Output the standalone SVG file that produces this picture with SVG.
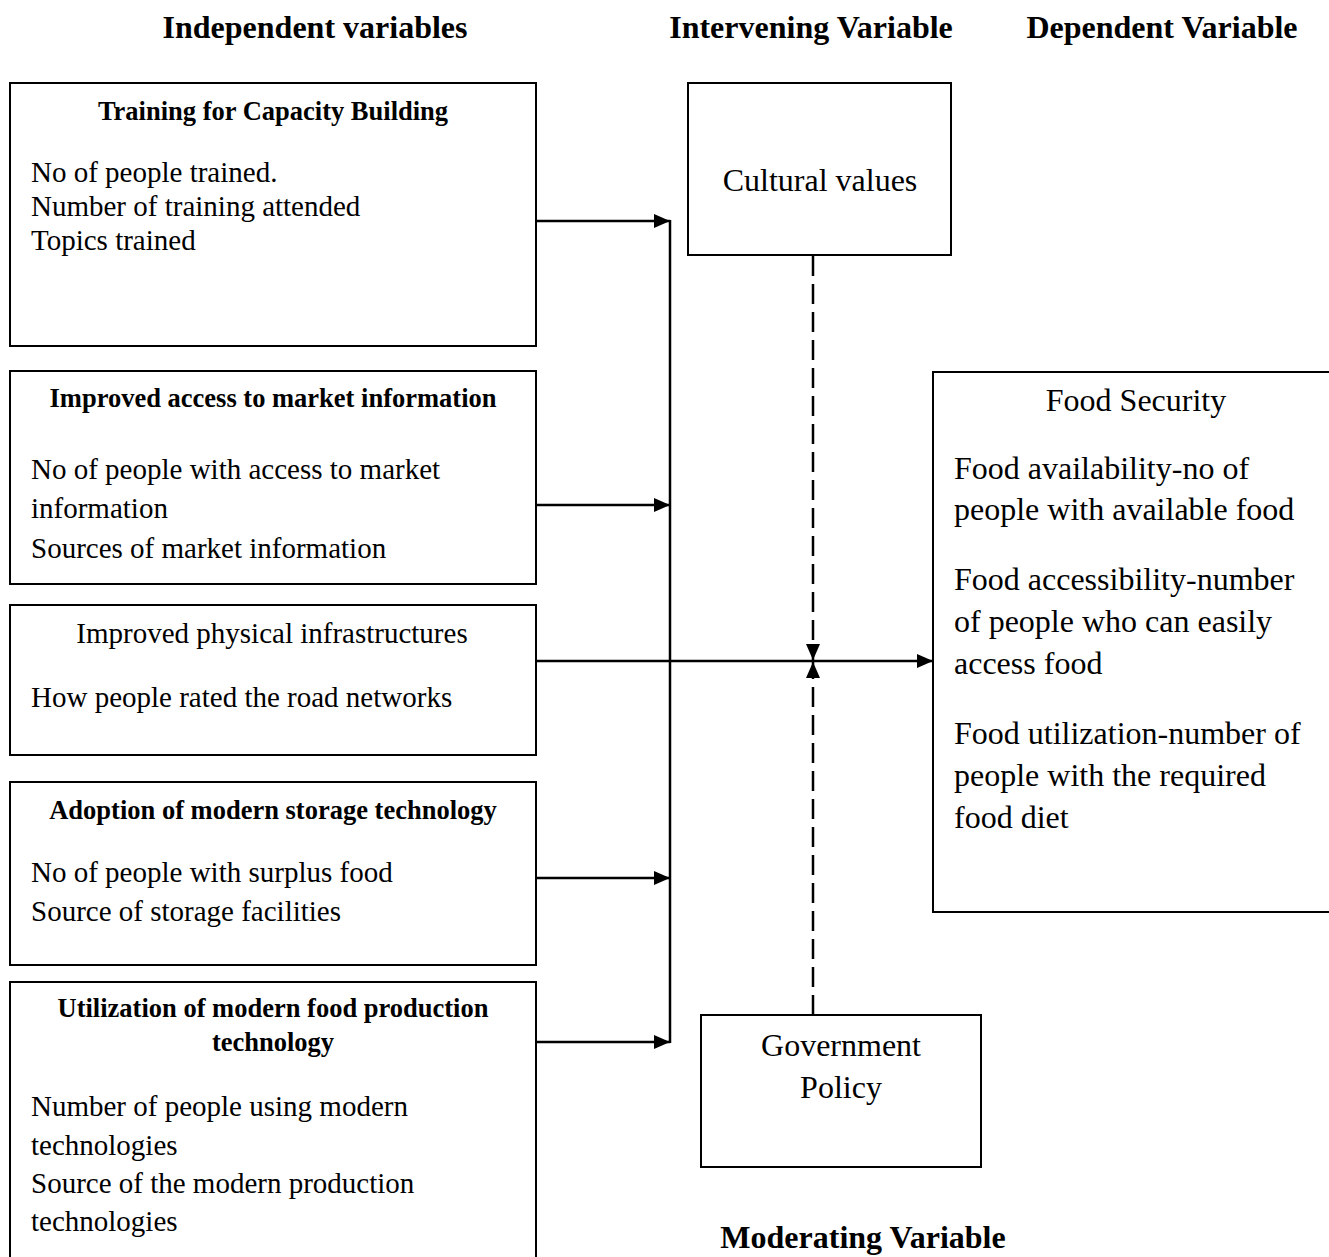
<svg xmlns="http://www.w3.org/2000/svg" width="1329" height="1257" viewBox="0 0 1329 1257">
<style>
text{font-family:"Liberation Serif","Times New Roman",serif;fill:#000}
.hdr{font-size:32px;font-weight:bold}
.ttl{font-size:26.5px;font-weight:bold}
.b{font-size:29px}
.c{font-size:32px}
.mid{text-anchor:middle}
.box{fill:#fff;stroke:#000;stroke-width:2}
.ln{fill:none;stroke:#000;stroke-width:2.5}
.dash{fill:none;stroke:#000;stroke-width:2.5;stroke-dasharray:20 8}
</style>
<defs>
<marker id="ah" viewBox="0 0 16 14" refX="16" refY="7" markerWidth="16" markerHeight="14" orient="auto" markerUnits="userSpaceOnUse"><path d="M0,0 L16,7 L0,14 z" fill="#000"/></marker>
</defs>
<rect width="1329" height="1257" fill="#fff"/>
<g id="headers">
<text class="hdr mid" x="315" y="38">Independent variables</text>
<text class="hdr mid" x="811" y="38">Intervening Variable</text>
<text class="hdr mid" x="1162" y="38">Dependent Variable</text>
<text class="hdr mid" x="863" y="1248">Moderating Variable</text>
</g>
<g id="training">
<rect class="box" x="10" y="83" width="526" height="263"/>
<text class="ttl mid" x="273" y="120">Training for Capacity Building</text>
<text class="b" x="31" y="182">No of people trained.</text>
<text class="b" x="31" y="216">Number of training attended</text>
<text class="b" x="31" y="250">Topics trained</text>
</g>
<g id="market">
<rect class="box" x="10" y="371" width="526" height="213"/>
<text class="ttl mid" x="273" y="407">Improved access to market information</text>
<text class="b" x="31" y="479">No of people with access to market</text>
<text class="b" x="31" y="518">information</text>
<text class="b" x="31" y="558">Sources of market information</text>
</g>
<g id="infrastructure">
<rect class="box" x="10" y="605" width="526" height="150"/>
<text class="b mid" x="272" y="643">Improved physical infrastructures</text>
<text class="b" x="31" y="707">How people rated the road networks</text>
</g>
<g id="storage">
<rect class="box" x="10" y="782" width="526" height="183"/>
<text class="ttl mid" x="273" y="819">Adoption of modern storage technology</text>
<text class="b" x="31" y="882">No of people with surplus food</text>
<text class="b" x="31" y="921"> Source of storage facilities</text>
</g>
<g id="production">
<rect class="box" x="10" y="982" width="526" height="290"/>
<text class="ttl mid" x="273" y="1017">Utilization of modern food production</text>
<text class="ttl mid" x="273" y="1051">technology</text>
<text class="b" x="31" y="1116">Number of people using modern</text>
<text class="b" x="31" y="1155">technologies</text>
<text class="b" x="31" y="1193">Source of the modern production</text>
<text class="b" x="31" y="1231">technologies</text>
</g>
<g id="cultural">
<rect class="box" x="688" y="83" width="263" height="172"/>
<text class="c mid" x="820" y="191">Cultural values</text>
</g>
<g id="government">
<rect class="box" x="701" y="1015" width="280" height="152"/>
<text class="c mid" x="841" y="1056">Government</text>
<text class="c mid" x="841" y="1098">Policy</text>
</g>
<g id="food-security">
<rect class="box" x="933" y="372" width="420" height="540"/>
<text class="c mid" x="1136" y="411">Food Security</text>
<text class="c" x="954" y="479">Food availability-no of</text>
<text class="c" x="954" y="520">people with available food</text>
<text class="c" x="954" y="590">Food accessibility-number</text>
<text class="c" x="954" y="632">of people who can easily</text>
<text class="c" x="954" y="674">access food</text>
<text class="c" x="954" y="744">Food utilization-number of</text>
<text class="c" x="954" y="786">people with the required</text>
<text class="c" x="954" y="828">food diet</text>
</g>
<g id="connectors">
<line class="ln" x1="670" y1="220" x2="670" y2="1043"/>
<line class="ln" x1="536" y1="221" x2="670" y2="221" marker-end="url(#ah)"/>
<line class="ln" x1="536" y1="505" x2="670" y2="505" marker-end="url(#ah)"/>
<line class="ln" x1="536" y1="878" x2="670" y2="878" marker-end="url(#ah)"/>
<line class="ln" x1="536" y1="1042" x2="670" y2="1042" marker-end="url(#ah)"/>
<line class="ln" x1="536" y1="661" x2="933" y2="661" marker-end="url(#ah)"/>
<line class="dash" x1="813" y1="256" x2="813" y2="660" marker-end="url(#ah)"/>
<line class="dash" x1="813" y1="1015" x2="813" y2="662" marker-end="url(#ah)"/>
</g>
</svg>
